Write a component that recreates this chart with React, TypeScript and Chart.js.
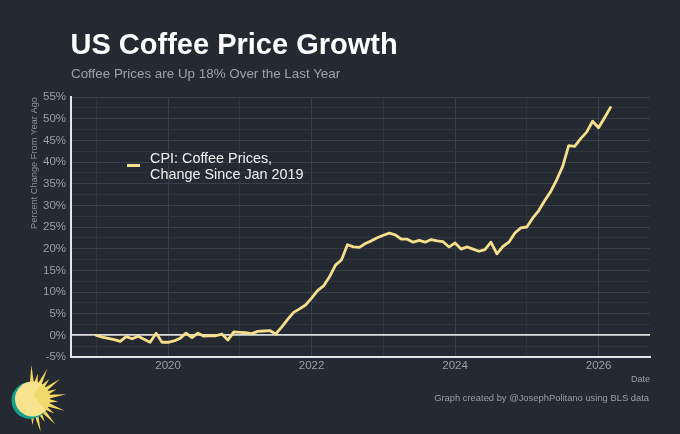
import React, { useEffect, useRef } from "react";
import { Chart, registerables } from "chart.js";

Chart.register(...registerables);

// ---- data ----
const startYear = 2019; // first observation: Jan 2019, monthly
const coffeeChange: number[] = [
  // 2019
  0.0, -0.4, -0.7, -1.0, -1.4, -0.3, -0.8, -0.2, -0.9, -1.6, 0.5, -1.6,
  // 2020
  -1.6, -1.3, -0.7, 0.5, -0.5, 0.5, -0.2, -0.1, -0.1, 0.3, -1.1, 0.8,
  // 2021
  0.7, 0.6, 0.4, 0.9, 1.0, 1.1, 0.3, 1.9, 3.7, 5.3, 6.1, 7.0,
  // 2022
  8.6, 10.3, 11.4, 13.5, 16.2, 17.4, 20.9, 20.4, 20.3, 21.2, 21.8, 22.5,
  // 2023
  23.1, 23.6, 23.2, 22.2, 22.2, 21.5, 21.9, 21.5, 22.1, 21.8, 21.6, 20.4,
  // 2024
  21.3, 19.9, 20.4, 19.9, 19.4, 19.8, 21.5, 18.8, 20.5, 21.5, 23.6, 24.8,
  // 2025
  25.0, 27.1, 28.8, 31.1, 33.2, 35.9, 39.0, 43.8, 43.6, 45.4, 46.9, 49.4,
  // 2026
  47.9, 50.2, 52.6,
];
const xGridYears: number[] = [2019, 2020, 2021, 2022, 2023, 2024, 2025, 2026];
const xLabelYears: number[] = [2020, 2022, 2024, 2026];
const yGridValues: number[] = [
  -5, -2.5, 0, 2.5, 5, 7.5, 10, 12.5, 15, 17.5, 20, 22.5, 25, 27.5, 30, 32.5,
  35, 37.5, 40, 42.5, 45, 47.5, 50, 52.5, 55,
];
const yLabelValues: number[] = [-5, 0, 5, 10, 15, 20, 25, 30, 35, 40, 45, 50, 55];

const TITLE = "US Coffee Price Growth";
const SUBTITLE = "Coffee Prices are Up 18% Over the Last Year";
const LEGEND_LINES = ["CPI: Coffee Prices,", "Change Since Jan 2019"];
const Y_TITLE = "Percent Change From Year Ago";
const X_TITLE = "Date";
const CAPTION = "Graph created by @JosephPolitano using BLS data";

// ---- style ----
const BG = "#252931";
const LINE = "#f6df8c";
const GRID_MAJOR = "#3a3f48";
const GRID_MINOR = "#30353d";
const TICK = "#9c9fa4";
const FONT = "'Liberation Sans', Arial, Helvetica, sans-serif";

export default function App() {
  const ref = useRef<HTMLCanvasElement | null>(null);

  useEffect(() => {
    if (!ref.current) return;
    const points = coffeeChange.map((v, i) => ({ x: i, y: v }));
    const chart = new Chart(ref.current, {
      type: "line",
      data: {
        datasets: [
          {
            label: LEGEND_LINES.join(" "),
            data: points,
            borderColor: LINE,
            borderWidth: 2.8,
            pointRadius: 0,
            tension: 0,
            borderJoinStyle: "round",
            borderCapStyle: "round",
            fill: false,
          },
        ],
      },
      options: {
        animation: false,
        responsive: false,
        devicePixelRatio: 1,
        layout: { padding: { left: 0, right: 30, top: 97, bottom: 47 } },
        plugins: {
          legend: { display: false },
          tooltip: { enabled: false },
          title: { display: false },
        },
        scales: {
          x: {
            type: "linear",
            min: -4.23,
            max: 92.6,
            afterFit: (scale: any) => {
              scale.height = 30;
            },
            afterBuildTicks: (scale: any) => {
              scale.ticks = xGridYears.map((y) => ({ value: (y - startYear) * 12 }));
            },
            ticks: {
              autoSkip: false,
              maxRotation: 0,
              padding: 2,
              color: TICK,
              font: { family: FONT, size: 11.5 },
              callback: (value: any) => {
                const yr = startYear + Number(value) / 12;
                return xLabelYears.includes(yr) ? String(yr) : "";
              },
            },
            grid: {
              drawTicks: false,
              color: (ctx: any) => {
                const yr = startYear + ctx.tick.value / 12;
                return xLabelYears.includes(yr) ? GRID_MAJOR : GRID_MINOR;
              },
              lineWidth: 1,
            },
            border: { display: true, color: "#e6e6e6", width: 2 },
            title: {
              display: true,
              text: X_TITLE,
              align: "end",
              color: TICK,
              font: { family: FONT, size: 9 },
              padding: { top: 0, bottom: 2 },
            },
          },
          y: {
            type: "linear",
            min: -5,
            max: 55,
            afterFit: (scale: any) => {
              scale.width = 71;
            },
            afterBuildTicks: (scale: any) => {
              scale.ticks = yGridValues.map((v) => ({ value: v }));
            },
            ticks: {
              autoSkip: false,
              padding: 5,
              color: TICK,
              font: { family: FONT, size: 11.5 },
              callback: (value: any) =>
                yLabelValues.includes(Number(value)) ? `${value}%` : "",
            },
            grid: {
              drawTicks: false,
              color: (ctx: any) => {
                const v = ctx.tick.value;
                if (v === 0) return "#dcdcdc";
                return yLabelValues.includes(v) ? GRID_MAJOR : GRID_MINOR;
              },
              lineWidth: (ctx: any) => (ctx.tick.value === 0 ? 1.8 : 1),
            },
            border: { display: true, color: "#e6e6e6", width: 2 },
            title: {
              display: true,
              text: Y_TITLE,
              align: "end",
              color: "#8e9196",
              font: { family: FONT, size: 9.3 },
              padding: { top: 29, bottom: 0 },
            },
          },
        },
      },
    });
    return () => chart.destroy();
  }, []);

  const spikes: string[] = [];
  const cx = 32.5;
  const cy = 399;
  for (let k = 0; k < 14; k++) {
    const a = ((-92 + k * 14) * Math.PI) / 180;
    const len = k % 2 === 0 ? 34 : 26;
    const half = 0.14;
    const r0 = 15;
    const p1 = [cx + r0 * Math.cos(a - half), cy + r0 * Math.sin(a - half)];
    const p2 = [cx + len * Math.cos(a), cy + len * Math.sin(a)];
    const p3 = [cx + r0 * Math.cos(a + half), cy + r0 * Math.sin(a + half)];
    spikes.push(`M${p1[0]},${p1[1]} L${p2[0]},${p2[1]} L${p3[0]},${p3[1]} Z`);
  }

  return (
    <div
      style={{
        position: "fixed",
        left: 0,
        top: 0,
        width: 680,
        height: 434,
        background: BG,
        overflow: "hidden",
        fontFamily: FONT,
      }}
    >
      <canvas ref={ref} width={680} height={434} style={{ position: "absolute", left: 0, top: 0 }} />
      <div
        style={{
          position: "absolute",
          left: 70.5,
          top: 30,
          fontSize: 29,
          lineHeight: "29px",
          fontWeight: "bold",
          color: "#ffffff",
          whiteSpace: "nowrap",
        }}
      >
        {TITLE}
      </div>
      <div
        style={{
          position: "absolute",
          left: 71,
          top: 67,
          fontSize: 13.4,
          lineHeight: "13.4px",
          color: "#9ea2a8",
          whiteSpace: "nowrap",
        }}
      >
        {SUBTITLE}
      </div>
      <div
        style={{
          position: "absolute",
          left: 126.5,
          top: 164.3,
          width: 13.5,
          height: 3,
          background: LINE,
        }}
      />
      <div
        style={{
          position: "absolute",
          left: 150,
          top: 151,
          fontSize: 14.4,
          lineHeight: "15.6px",
          color: "#f2f2f2",
          whiteSpace: "nowrap",
        }}
      >
        {LEGEND_LINES.map((t) => (
          <div key={t}>{t}</div>
        ))}
      </div>
      <div
        style={{
          position: "absolute",
          right: 31,
          top: 392.5,
          fontSize: 9.4,
          lineHeight: "9.4px",
          color: TICK,
          whiteSpace: "nowrap",
        }}
      >
        {CAPTION}
      </div>
      <svg
        width={680}
        height={434}
        style={{ position: "absolute", left: 0, top: 0, pointerEvents: "none" }}
      >
        {spikes.map((d, i) => (
          <path key={i} d={d} fill="#f4d95c" />
        ))}
        <circle cx={30} cy={400.5} r={18.5} fill="#17a08f" />
        <circle cx={cx} cy={cy} r={17.5} fill="#f8e38e" />
        <path d="M33.3,395 L41.8,384.2 A17.5,17.5 0 0 1 45.6,410.5 Z" fill="#f1d96c" />
      </svg>
    </div>
  );
}
